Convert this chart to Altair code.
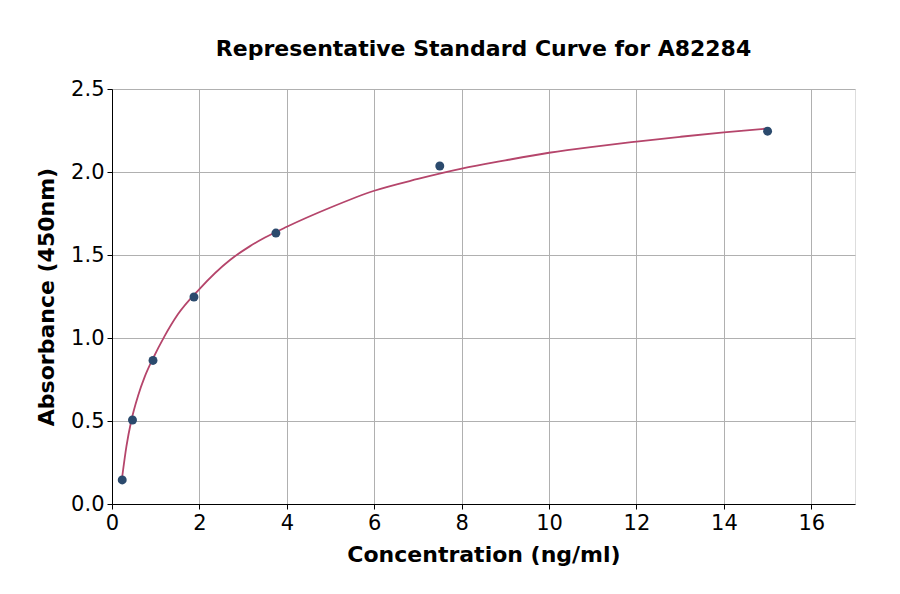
import altair as alt
import pandas as pd

# Standard points (concentration ng/ml, absorbance)
conc = [0.234, 0.469, 0.938, 1.875, 3.75, 7.5, 15.0]
absorb = [0.145, 0.506, 0.865, 1.247, 1.632, 2.036, 2.246]

# Fitted curve
curve_x = [0.234, 0.33, 0.44, 0.6, 0.75, 0.935, 1.2, 1.5, 2.0, 2.7, 3.15, 3.5, 4.0,
           5.0, 6.0, 7.0, 8.0, 9.0, 10.0, 11.0, 12.0, 13.0, 14.0, 15.0]
curve_y = [0.165, 0.347, 0.50, 0.655, 0.767, 0.875, 1.01, 1.14, 1.295, 1.47, 1.552, 1.605, 1.67,
           1.786, 1.887, 1.958, 2.02, 2.07, 2.116, 2.152, 2.183, 2.212, 2.239, 2.262]

x_ticks = [0, 2, 4, 6, 8, 10, 12, 14, 16]
y_ticks = [0.0, 0.5, 1.0, 1.5, 2.0, 2.5]

pts = pd.DataFrame({"x": conc, "y": absorb})
crv = pd.DataFrame({"x": curve_x, "y": curve_y})

FONT = "DejaVu Sans"

xscale = alt.Scale(domain=[0, 17], nice=False, zero=False)
yscale = alt.Scale(domain=[0, 2.5], nice=False, zero=False)

common = dict(labelFontSize=21, titleFontSize=22, titleFontWeight="bold",
              labelFont=FONT, titleFont=FONT, labelColor="#000", titleColor="#000",
              tickColor="#000", domainColor="#000", tickSize=5, labelPadding=3,
              gridColor="#b0b0b0", gridWidth=1, labelFlush=False)
xaxis = alt.Axis(values=x_ticks, title="Concentration (ng/ml)", format="d",
                 titlePadding=11, **common)
yaxis = alt.Axis(values=y_ticks, title="Absorbance (450nm)", format=".1f",
                 titlePadding=12, **common)

line = alt.Chart(crv).mark_line(color="#b5456b", strokeWidth=1.8, interpolate="monotone").encode(
    x=alt.X("x:Q", scale=xscale, axis=xaxis),
    y=alt.Y("y:Q", scale=yscale, axis=yaxis),
)
points = alt.Chart(pts).mark_circle(color="#2b4a6d", opacity=1, size=80).encode(
    x=alt.X("x:Q", scale=xscale),
    y=alt.Y("y:Q", scale=yscale),
)

chart = alt.layer(line, points).properties(
    width=743, height=415,
    title=alt.TitleParams("Representative Standard Curve for A82284", font=FONT,
                          fontSize=22, fontWeight="bold", color="#000", offset=17),
    autosize=alt.AutoSizeParams(type="none"),
    padding={"left": 104, "top": 81, "right": 30, "bottom": 80},
).configure_view(stroke="#000", strokeWidth=1).configure(background="white")

chart.save("out.html", embed_options={"renderer": "svg", "actions": False})
